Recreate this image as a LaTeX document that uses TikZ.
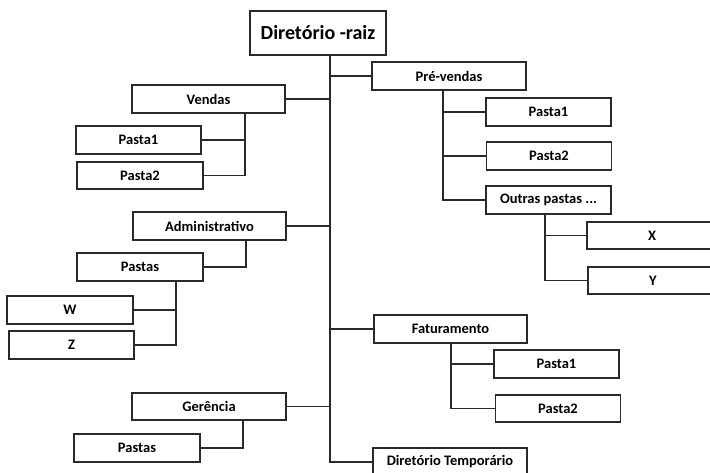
\documentclass[tikz,border=0pt]{standalone}
\usepackage{fontspec}
\setmainfont{Carlito}
\definecolor{ln}{HTML}{2A2A2A}
\tikzset{
  box/.style={draw=ln, line width=1.3pt, fill=white, inner sep=0pt,
    minimum height=28pt, font=\fontsize{14.5}{16}\selectfont\bfseries, text=black},
  conn/.style={draw=ln, line width=1.3pt},
  trunk/.style={draw=ln, line width=2pt},
}
\begin{document}
\begin{tikzpicture}[x=1pt,y=-1pt]
\useasboundingbox (0,0) rectangle (710,472);
\clip (0,0) rectangle (710,472);
% subtrunk x positions
\coordinate (t) at (330,0);
\coordinate (sv) at (245,0);
\coordinate (sa) at (246,0);
\coordinate (sap) at (176,0);
\coordinate (sg) at (243,0);
\coordinate (sp) at (443,0);
\coordinate (so) at (545,0);
\coordinate (sf) at (451,0);
% boxes
\node[box, minimum width=136pt, minimum height=44pt, font=\fontsize{20}{22}\selectfont\bfseries] (root) at (318,33) {Diretório -raiz};
\node[box, minimum width=154pt] (prev) at (449,76) {Pré-vendas};
\node[box, minimum width=125pt] (pp1) at (548.5,112) {Pasta1};
\node[box, minimum width=125pt] (pp2) at (549,156) {Pasta2};
\node[box, minimum width=125pt] (outras) at (548.5,200) {Outras pastas ...};
\node[box, minimum width=130pt, minimum height=27pt] (X) at (652,235.5) {X};
\node[box, minimum width=130pt, minimum height=27pt] (Y) at (653,280.5) {Y};
\node[box, minimum width=153pt] (fat) at (450.5,329) {Faturamento};
\node[box, minimum width=125pt] (fp1) at (556.5,364) {Pasta1};
\node[box, minimum width=125pt, minimum height=27pt] (fp2) at (558,408.5) {Pasta2};
\node[box, minimum width=154pt] (temp) at (450,462) {Diretório Temporário};
\node[box, minimum width=153pt] (vendas) at (208.5,99) {Vendas};
\node[box, minimum width=125pt] (vp1) at (138.5,140) {Pasta1};
\node[box, minimum width=126pt, minimum height=27pt] (vp2) at (140,175.5) {Pasta2};
\node[box, minimum width=153pt] (admin) at (209.5,226) {Administrativo};
\node[box, minimum width=126pt] (apastas) at (140,267) {Pastas};
\node[box, minimum width=126pt] (W) at (70,310) {W};
\node[box, minimum width=125pt] (Z) at (71.5,345) {Z};
\node[box, minimum width=154pt, minimum height=27pt] (ger) at (209,406.5) {Gerência};
\node[box, minimum width=126pt] (gpastas) at (137,448) {Pastas};
% main trunk
\draw[trunk] (root.south -| t) |- (temp.west);
\draw[conn] (prev.west) -- (prev.west -| t);
\draw[conn] (fat.west) -- (fat.west -| t);
\draw[conn] (vendas.east) -- (vendas.east -| t);
\draw[conn] (admin.east) -- (admin.east -| t);
\draw[conn] (ger.east) -- (ger.east -| t);
% Pre-vendas
\draw[conn] (prev.south -| sp) |- (outras.west);
\draw[conn] (pp1.west) -- (pp1.west -| sp);
\draw[conn] (pp2.west) -- (pp2.west -| sp);
% Outras
\draw[conn] (outras.south -| so) |- (Y.west);
\draw[conn] (X.west) -- (X.west -| so);
% Faturamento
\draw[conn] (fat.south -| sf) |- (fp2.west);
\draw[conn] (fp1.west) -- (fp1.west -| sf);
% Vendas
\draw[conn] (vendas.south -| sv) |- (vp2.east);
\draw[conn] (vp1.east) -- (vp1.east -| sv);
% Administrativo
\draw[conn] (admin.south -| sa) |- (apastas.east);
\draw[conn] (apastas.south -| sap) |- (Z.east);
\draw[conn] (W.east) -- (W.east -| sap);
% Gerencia
\draw[conn] (ger.south -| sg) |- (gpastas.east);
\end{tikzpicture}
\end{document}
